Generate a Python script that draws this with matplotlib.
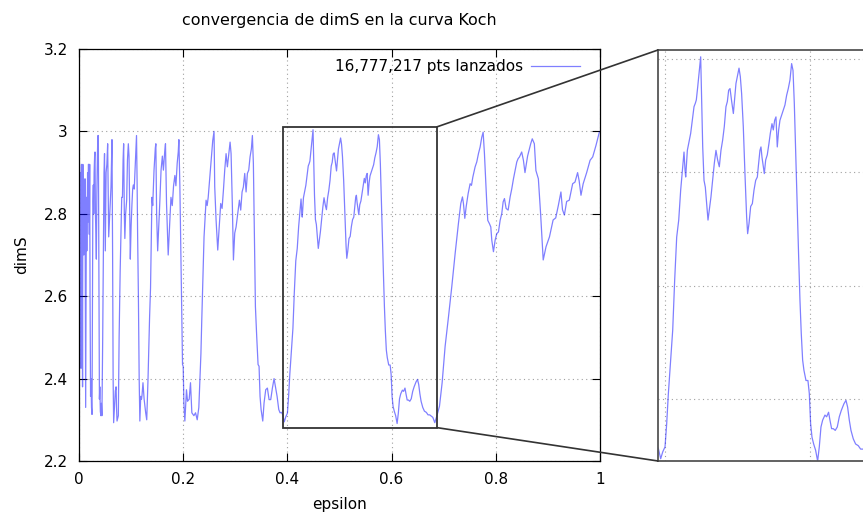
import matplotlib
matplotlib.use("Agg")
import matplotlib.pyplot as plt
from matplotlib.patches import Rectangle, ConnectionPatch

# convergence curve (epsilon, dimS)
eps = [
    0.0000, 0.0005, 0.0010, 0.0015, 0.0020, 0.0025, 0.0030, 0.0038, 0.0044, 0.0050,
    0.0055, 0.0060, 0.0068, 0.0074, 0.0080, 0.0086, 0.0092, 0.0100, 0.0108, 0.0115,
    0.0121, 0.0128, 0.0134, 0.0142, 0.0150, 0.0158, 0.0165, 0.0172, 0.0180, 0.0186,
    0.0192, 0.0198, 0.0205, 0.0212, 0.0222, 0.0230, 0.0240, 0.0250, 0.0258, 0.0266,
    0.0275, 0.0282, 0.0290, 0.0300, 0.0307, 0.0315, 0.0325, 0.0333, 0.0343, 0.0355,
    0.0362, 0.0371, 0.0380, 0.0392, 0.0400, 0.0410, 0.0420, 0.0430, 0.0440, 0.0455,
    0.0470, 0.0480, 0.0490, 0.0505, 0.0520, 0.0535, 0.0550, 0.0570, 0.0590, 0.0614,
    0.0633, 0.0645, 0.0655, 0.0665, 0.0680, 0.0697, 0.0712, 0.0720, 0.0730, 0.0755,
    0.0770, 0.0790, 0.0820, 0.0834, 0.0846, 0.0857, 0.0870, 0.0880, 0.0895, 0.0915,
    0.0930, 0.0947, 0.0960, 0.0975, 0.0985, 0.1000, 0.1017, 0.1030, 0.1043, 0.1060,
    0.1080, 0.1095, 0.1104, 0.1115, 0.1125, 0.1140, 0.1155, 0.1168, 0.1185, 0.1200,
    0.1210, 0.1228, 0.1250, 0.1280, 0.1300, 0.1325, 0.1355, 0.1373, 0.1400, 0.1415,
    0.1440, 0.1465, 0.1475, 0.1490, 0.1510, 0.1535, 0.1550, 0.1575, 0.1600, 0.1620,
    0.1645, 0.1660, 0.1680, 0.1712, 0.1745, 0.1765, 0.1790, 0.1815, 0.1840, 0.1860,
    0.1885, 0.1905, 0.1917, 0.1936, 0.1968, 0.1987, 0.2000, 0.2013, 0.2032, 0.2063,
    0.2083, 0.2115, 0.2140, 0.2166, 0.2205, 0.2237, 0.2269, 0.2300, 0.2340, 0.2356,
    0.2384, 0.2400, 0.2439, 0.2460, 0.2480, 0.2503, 0.2528, 0.2567, 0.2592, 0.2605,
    0.2631, 0.2663, 0.2695, 0.2720, 0.2746, 0.2772, 0.2797, 0.2823, 0.2848, 0.2868,
    0.2900, 0.2919, 0.2944, 0.2964, 0.2989, 0.3015, 0.3040, 0.3060, 0.3079, 0.3104,
    0.3130, 0.3155, 0.3181, 0.3207, 0.3232, 0.3258, 0.3283, 0.3309, 0.3328, 0.3347,
    0.3367, 0.3386, 0.3411, 0.3437, 0.3456, 0.3475, 0.3495, 0.3527, 0.3552, 0.3584,
    0.3616, 0.3648, 0.3680, 0.3712, 0.3744, 0.3770, 0.3802, 0.3834, 0.3859, 0.3885,
    0.3908, 0.3940, 0.3968, 0.4000, 0.4023, 0.4046, 0.4078, 0.4106, 0.4133, 0.4161,
    0.4189, 0.4216, 0.4244, 0.4262, 0.4276, 0.4285, 0.4308, 0.4336, 0.4354, 0.4377,
    0.4400, 0.4418, 0.4432, 0.4451, 0.4469, 0.4492, 0.4506, 0.4520, 0.4538, 0.4556,
    0.4575, 0.4593, 0.4611, 0.4634, 0.4657, 0.4680, 0.4703, 0.4726, 0.4749, 0.4772,
    0.4795, 0.4818, 0.4841, 0.4860, 0.4878, 0.4897, 0.4920, 0.4943, 0.4961, 0.4979,
    0.4998, 0.5021, 0.5039, 0.5057, 0.5080, 0.5103, 0.5126, 0.5140, 0.5159, 0.5182,
    0.5205, 0.5228, 0.5251, 0.5274, 0.5287, 0.5310, 0.5324, 0.5338, 0.5356, 0.5370,
    0.5389, 0.5411, 0.5434, 0.5453, 0.5476, 0.5494, 0.5513, 0.5531, 0.5549, 0.5568,
    0.5586, 0.5609, 0.5632, 0.5655, 0.5678, 0.5701, 0.5724, 0.5747, 0.5766, 0.5784,
    0.5802, 0.5825, 0.5844, 0.5862, 0.5880, 0.5899, 0.5917, 0.5945, 0.5972, 0.5991,
    0.6009, 0.6028, 0.6051, 0.6078, 0.6106, 0.6129, 0.6152, 0.6175, 0.6207, 0.6230,
    0.6257, 0.6276, 0.6299, 0.6322, 0.6349, 0.6377, 0.6405, 0.6432, 0.6469, 0.6497,
    0.6520, 0.6543, 0.6566, 0.6598, 0.6630, 0.6667, 0.6699, 0.6731, 0.6791, 0.6829,
    0.6868, 0.6919, 0.6970, 0.7027, 0.7091, 0.7155, 0.7220, 0.7283, 0.7328, 0.7360,
    0.7379, 0.7405, 0.7431, 0.7469, 0.7507, 0.7533, 0.7559, 0.7603, 0.7635, 0.7667,
    0.7699, 0.7731, 0.7757, 0.7782, 0.7808, 0.7827, 0.7846, 0.7878, 0.7904, 0.7923,
    0.7955, 0.7987, 0.8019, 0.8051, 0.8083, 0.8115, 0.8141, 0.8166, 0.8198, 0.8237,
    0.8275, 0.8307, 0.8339, 0.8371, 0.8403, 0.8429, 0.8454, 0.8497, 0.8530, 0.8560,
    0.8610, 0.8670, 0.8700, 0.8740, 0.8770, 0.8817, 0.8860, 0.8910, 0.8964, 0.9030,
    0.9100, 0.9150, 0.9200, 0.9250, 0.9280, 0.9316, 0.9360, 0.9410, 0.9475, 0.9520,
    0.9570, 0.9600, 0.9635, 0.9677, 0.9744, 0.9810, 0.9860, 0.9923, 0.9987,
]
dims = [
    2.870, 2.760, 2.920, 2.740, 2.900, 2.800, 2.850, 2.425, 2.880, 2.920,
    2.780, 2.860, 2.380, 2.920, 2.750, 2.840, 2.700, 2.800, 2.800, 2.885,
    2.600, 2.330, 2.550, 2.840, 2.710, 2.800, 2.900, 2.780, 2.920, 2.920,
    2.840, 2.750, 2.920, 2.600, 2.357, 2.400, 2.330, 2.313, 2.600, 2.830,
    2.870, 2.800, 2.900, 2.940, 2.950, 2.800, 2.750, 2.690, 2.850, 2.950,
    2.990, 2.990, 2.700, 2.350, 2.380, 2.320, 2.310, 2.340, 2.310, 2.500,
    2.750, 2.900, 2.946, 2.710, 2.900, 2.920, 2.970, 2.744, 2.800, 2.865,
    2.980, 2.700, 2.400, 2.293, 2.330, 2.370, 2.380, 2.330, 2.297, 2.310,
    2.500, 2.660, 2.840, 2.840, 2.930, 2.970, 2.800, 2.740, 2.800, 2.833,
    2.930, 2.970, 2.940, 2.800, 2.690, 2.770, 2.825, 2.860, 2.870, 2.860,
    2.920, 2.970, 2.990, 2.880, 2.750, 2.600, 2.400, 2.297, 2.357, 2.350,
    2.360, 2.390, 2.350, 2.317, 2.300, 2.400, 2.550, 2.620, 2.840, 2.820,
    2.906, 2.960, 2.970, 2.800, 2.710, 2.780, 2.825, 2.906, 2.940, 2.906,
    2.950, 2.970, 2.825, 2.700, 2.785, 2.840, 2.820, 2.868, 2.893, 2.868,
    2.923, 2.950, 2.980, 2.868, 2.600, 2.434, 2.430, 2.340, 2.297, 2.373,
    2.345, 2.350, 2.390, 2.317, 2.310, 2.317, 2.300, 2.330, 2.460, 2.540,
    2.664, 2.744, 2.833, 2.820, 2.840, 2.877, 2.920, 2.978, 3.000, 2.866,
    2.785, 2.712, 2.777, 2.825, 2.813, 2.857, 2.906, 2.946, 2.914, 2.938,
    2.974, 2.946, 2.817, 2.688, 2.753, 2.768, 2.793, 2.813, 2.833, 2.809,
    2.853, 2.865, 2.898, 2.853, 2.898, 2.906, 2.938, 2.958, 2.990, 2.922,
    2.744, 2.575, 2.502, 2.434, 2.430, 2.357, 2.325, 2.297, 2.341, 2.373,
    2.377, 2.349, 2.349, 2.377, 2.400, 2.381, 2.357, 2.325, 2.317, 2.318,
    2.313, 2.295, 2.307, 2.316, 2.357, 2.410, 2.469, 2.522, 2.610, 2.686,
    2.716, 2.769, 2.810, 2.836, 2.804, 2.792, 2.839, 2.857, 2.869, 2.892,
    2.916, 2.922, 2.928, 2.951, 2.975, 3.004, 2.928, 2.845, 2.786, 2.774,
    2.745, 2.716, 2.734, 2.757, 2.786, 2.816, 2.839, 2.822, 2.810, 2.839,
    2.857, 2.881, 2.916, 2.925, 2.945, 2.948, 2.925, 2.904, 2.931, 2.957,
    2.969, 2.984, 2.969, 2.939, 2.881, 2.798, 2.722, 2.692, 2.710, 2.740,
    2.745, 2.769, 2.786, 2.792, 2.810, 2.839, 2.845, 2.827, 2.810, 2.798,
    2.822, 2.831, 2.851, 2.869, 2.886, 2.875, 2.892, 2.898, 2.845, 2.875,
    2.892, 2.901, 2.910, 2.919, 2.936, 2.948, 2.963, 2.992, 2.980, 2.922,
    2.839, 2.728, 2.651, 2.575, 2.516, 2.469, 2.451, 2.433, 2.433, 2.410,
    2.357, 2.333, 2.321, 2.310, 2.291, 2.316, 2.351, 2.363, 2.372, 2.369,
    2.377, 2.363, 2.348, 2.348, 2.345, 2.351, 2.369, 2.380, 2.392, 2.398,
    2.386, 2.363, 2.345, 2.330, 2.321, 2.318, 2.312, 2.312, 2.306, 2.293,
    2.309, 2.333, 2.390, 2.478, 2.549, 2.623, 2.704, 2.777, 2.825, 2.841,
    2.825, 2.789, 2.817, 2.849, 2.873, 2.869, 2.889, 2.914, 2.926, 2.946,
    2.962, 2.986, 2.998, 2.946, 2.873, 2.825, 2.784, 2.776, 2.768, 2.736,
    2.708, 2.736, 2.752, 2.756, 2.784, 2.801, 2.829, 2.837, 2.813, 2.809,
    2.841, 2.861, 2.885, 2.906, 2.926, 2.934, 2.938, 2.950, 2.930, 2.900,
    2.940, 2.970, 2.982, 2.970, 2.905, 2.885, 2.800, 2.688, 2.720, 2.744,
    2.785, 2.790, 2.820, 2.853, 2.810, 2.797, 2.830, 2.833, 2.873, 2.877,
    2.900, 2.880, 2.845, 2.873, 2.900, 2.930, 2.938, 2.966, 2.998,
]

x_ticks = [0, 0.2, 0.4, 0.6, 0.8, 1.0]
x_labels = ["0", "0.2", "0.4", "0.6", "0.8", "1"]
y_ticks = [2.2, 2.4, 2.6, 2.8, 3.0, 3.2]
y_labels = ["2.2", "2.4", "2.6", "2.8", "3", "3.2"]

# zoomed region
box_x = (0.391, 0.687)
box_y = (2.281, 3.011)

W, H = 863, 514
plt.rcParams["font.family"] = "DejaVu Sans"
plt.rcParams["font.size"] = 10.5

fig = plt.figure(figsize=(W / 100, H / 100), dpi=100)

line_kw = dict(color="#0000ff", alpha=0.5, lw=0.9)
grid_kw = dict(color="#a0a0a0", linestyle=(0, (1, 3)), linewidth=0.8)

ax = fig.add_axes([79 / W, 53 / H, 521 / W, 412 / H])
ax.plot(eps, dims, label="16,777,217 pts lanzados", **line_kw)
ax.set_xlim(0, 1)
ax.set_ylim(2.2, 3.2)
ax.set_xticks(x_ticks)
ax.set_xticklabels(x_labels)
ax.set_yticks(y_ticks)
ax.set_yticklabels(y_labels)
ax.grid(True, **grid_kw)
ax.tick_params(direction="in", top=True, right=True, length=6, width=0.8,
               labelsize=11, pad=8)
for s in ax.spines.values():
    s.set_linewidth(0.9)

ax.legend(loc="upper right", bbox_to_anchor=(0.962, 0.975), frameon=False,
          markerfirst=False, handlelength=3.2, handletextpad=0.55,
          borderpad=0, borderaxespad=0, fontsize=11)

ax.add_patch(Rectangle((box_x[0], box_y[0]), box_x[1] - box_x[0], box_y[1] - box_y[0],
                       fill=False, ec="#333333", lw=1.3, zorder=5))

# inset on the right, runs past the figure edge
axin = fig.add_axes([658 / W, 53 / H, 215 / W, 411 / H])
axin.plot(eps, dims, **line_kw)
axin.set_xlim(0.3903, 0.687)
axin.set_ylim(2.291, 3.016)
axin.set_xticks([0.4, 0.6])
axin.set_yticks([2.4, 2.6, 2.8, 3.0])
axin.set_xticklabels([])
axin.set_yticklabels([])
axin.tick_params(direction="in", length=0)
axin.grid(True, **grid_kw)
for s in axin.spines.values():
    s.set_color("#555555")
    s.set_linewidth(1.3)

for yb, ya in [(box_y[1], 1), (box_y[0], 0)]:
    con = ConnectionPatch(xyA=(box_x[1], yb), coordsA=ax.transData,
                          xyB=(0, ya), coordsB=axin.transAxes,
                          color="#333333", lw=1.2, zorder=10)
    fig.add_artist(con)

fig.text(339.5 / W, 1 - 20 / H, "convergencia de dimS en la curva Koch",
         ha="center", va="center", fontsize=11.4)
fig.text(339.5 / W, 1 - 505 / H, "epsilon", ha="center", va="center", fontsize=11)
fig.text(22 / W, 1 - 255 / H, "dimS", ha="center", va="center",
         rotation=90, fontsize=11)

fig.savefig("out.png", dpi=100)
